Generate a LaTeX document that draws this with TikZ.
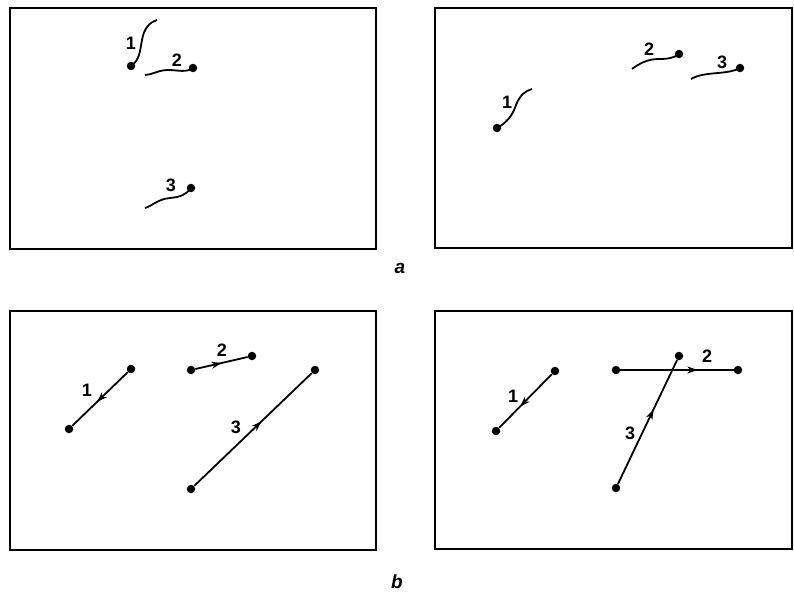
\documentclass[tikz,border=0pt]{standalone}
\usepackage{fontspec}
\setmainfont{Liberation Sans}
\usetikzlibrary{decorations.markings,arrows.meta}
\tikzset{
  frame/.style={line width=2.8pt},
  pt/.style={circle,fill=black,inner sep=0pt,minimum size=8.5pt},
  tail/.style={line width=1.8pt},
  lab/.style={font=\fontsize{18}{18}\selectfont\bfseries,inner sep=0pt},
  sub/.style={font=\fontsize{19}{19}\selectfont\bfseries\itshape,inner sep=0pt},
  seg/.style={line width=1.8pt,postaction={decorate},decoration={markings,
    mark=at position #1 with {\arrow{Stealth[length=10pt,width=7pt]}}}},
  seg/.default=0.55
}
\begin{document}
\begin{tikzpicture}[x=1pt,y=-1pt]
\useasboundingbox (0,0) rectangle (794,594);
% frames
\draw[frame] (10,8) rectangle (376,249);
\draw[frame] (435,8) rectangle (792,248);
\draw[frame] (10,311) rectangle (376,550);
\draw[frame] (435,311) rectangle (792,549);
\node[sub] (la) at (400,268) {a};
\node[sub] (lb) at (397,582) {b};
% ---- a, left
\node[pt] (a1) at (131,66) {};
\node[pt] (a2) at (193,68) {};
\node[pt] (a3) at (191,188) {};
\coordinate (a1e) at (157,20);
\coordinate (a2e) at (145,75);
\coordinate (a3e) at (145,208);
\draw[tail] (a1.center) .. controls (140,60) and (140,50) .. (142,40) .. controls (144,28) and (150,22) .. (a1e);
\draw[tail] (a2.center) .. controls (186,73) and (178,70) .. (168,70) .. controls (158,70) and (152,75) .. (a2e);
\draw[tail] (a3.center) .. controls (186,195) and (180,197) .. (170,198) .. controls (158,199) and (152,206) .. (a3e);
\node[lab] (t1) at (131,43) {1};
\node[lab] (t2) at (177,60) {2};
\node[lab] (t3) at (171,185) {3};
% ---- a, right
\node[pt] (b1) at (497,128) {};
\node[pt] (b2) at (679,54) {};
\node[pt] (b3) at (740,68) {};
\coordinate (b1e) at (532,89);
\coordinate (b2e) at (632,69);
\coordinate (b3e) at (691,79);
\draw[tail] (b1.center) .. controls (508,122) and (513,114) .. (516,105) .. controls (520,95) and (525,91) .. (b1e);
\draw[tail] (b2.center) .. controls (674,58) and (668,59) .. (659,59) .. controls (648,59) and (640,63) .. (b2e);
\draw[tail] (b3.center) .. controls (735,71) and (728,72) .. (718,73) .. controls (706,74) and (698,75) .. (b3e);
\node[lab] (u1) at (507,102) {1};
\node[lab] (u2) at (649,49) {2};
\node[lab] (u3) at (722,62) {3};
% ---- b, left
\node[pt] (c1a) at (131,369) {};
\node[pt] (c1b) at (69,429) {};
\node[pt] (c2a) at (191,370) {};
\node[pt] (c2b) at (252,356) {};
\node[pt] (c3a) at (191,489) {};
\node[pt] (c3b) at (315,370) {};
\draw[seg=0.55] (c1a) -- (c1b);
\draw[seg=0.5] (c2a) -- (c2b);
\draw[seg=0.57] (c3a) -- (c3b);
\node[lab] (v1) at (87,390) {1};
\node[lab] (v2) at (222,350) {2};
\node[lab] (v3) at (236,427) {3};
% ---- b, right
\node[pt] (d1a) at (555,371) {};
\node[pt] (d1b) at (496,431) {};
\node[pt] (d2a) at (616,370) {};
\node[pt] (d2b) at (738,370) {};
\node[pt] (d3a) at (616,488) {};
\node[pt] (d3b) at (679,356) {};
\draw[seg=0.6] (d1a) -- (d1b);
\draw[seg=0.68] (d2a) -- (d2b);
\draw[seg=0.6] (d3a) -- (d3b);
\node[lab] (w1) at (513,396) {1};
\node[lab] (w2) at (707,356) {2};
\node[lab] (w3) at (630,433) {3};
\end{tikzpicture}
\end{document}
